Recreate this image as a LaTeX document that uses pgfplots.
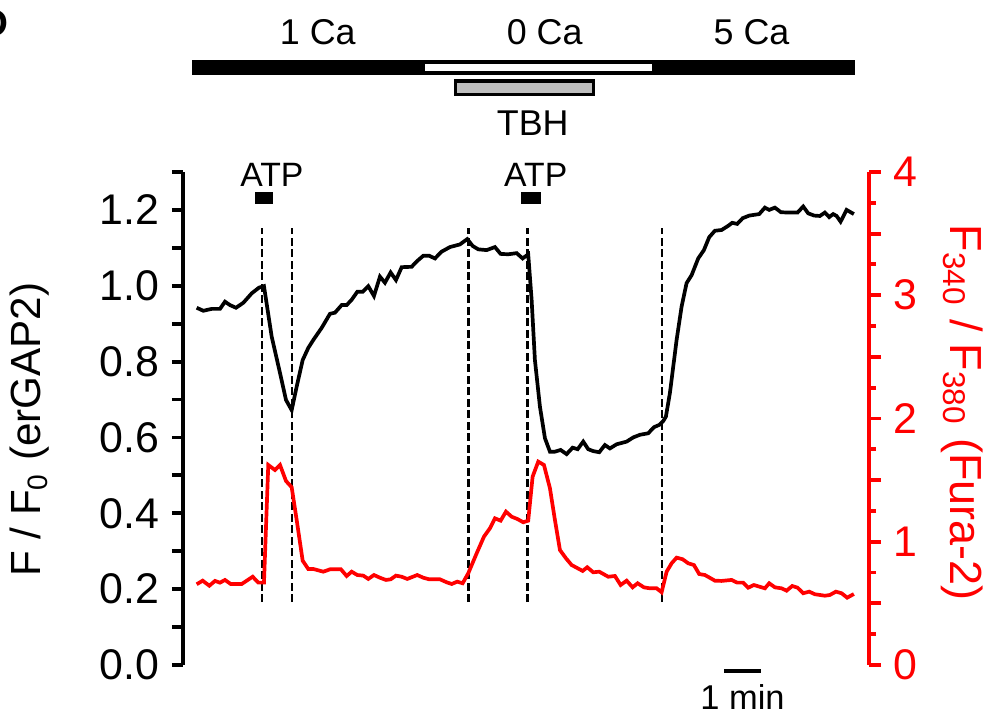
\documentclass[border=0pt]{standalone}
\usepackage{fontspec}
\setmainfont{Liberation Sans}
\usepackage{pgfplots}
\pgfplotsset{compat=1.18}
\definecolor{fred}{RGB}{255,0,0}
\definecolor{tbhgray}{RGB}{190,190,190}
\newcommand{\fs}[1]{\fontsize{#1}{#1}\selectfont}
\begin{document}
\begin{tikzpicture}
\useasboundingbox (0,0) rectangle (9.96cm,7.2cm);
\begin{axis}[
  at={(1.83cm,0.55cm)}, anchor=south west,
  width=6.86cm, height=4.93cm, scale only axis,
  xmin=-0.054, xmax=18.49, ymin=0, ymax=1.3,
  axis x line=none, axis y line*=left,
  clip=false,
  /pgf/number format/assume math mode=true,
  ytick={0,0.2,0.4,0.6,0.8,1.0,1.2},
  minor ytick={0.1,0.3,0.5,0.7,0.9,1.1,1.3},
  yticklabel style={font=\fs{12.2}, /pgf/number format/fixed, /pgf/number format/fixed zerofill, /pgf/number format/precision=1},
  tick align=outside,
  major tick length=0.11cm, minor tick length=0.11cm,
  tick style={black, line width=1.1pt},
  y axis line style={-, line width=1.1pt},
]
\addplot[black, line width=1.05pt] coordinates {
(0.316,0.942) (0.495,0.934) (0.722,0.939) (0.946,0.939) (1.081,0.958) (1.216,0.949)
(1.378,0.942) (1.576,0.955) (1.803,0.980) (2.000,0.995) (2.135,0.999) (2.343,0.866)
(2.568,0.770) (2.730,0.699) (2.884,0.672) (3.019,0.734) (3.181,0.804) (3.332,0.836)
(3.468,0.857) (3.695,0.889) (3.919,0.926) (4.054,0.929) (4.235,0.949) (4.370,0.949)
(4.505,0.963) (4.657,0.984) (4.803,0.984) (4.954,0.999) (5.108,0.973) (5.270,1.024)
(5.405,1.008) (5.559,1.035) (5.703,1.015) (5.857,1.049) (6.127,1.050) (6.262,1.064)
(6.441,1.079) (6.603,1.079) (6.757,1.072) (6.938,1.090) (7.162,1.102) (7.432,1.109)
(7.630,1.123) (7.776,1.105) (7.927,1.096) (8.154,1.094) (8.378,1.102) (8.532,1.084)
(8.738,1.083) (8.965,1.086) (9.127,1.072) (9.278,1.083) (9.370,0.963) (9.459,0.804)
(9.595,0.681) (9.730,0.598) (9.865,0.5625) (10.000,0.5625) (10.154,0.567) (10.316,0.556)
(10.478,0.573) (10.614,0.569) (10.765,0.589) (10.900,0.569) (11.035,0.564) (11.197,0.561)
(11.351,0.580) (11.486,0.571) (11.668,0.582) (11.938,0.589) (12.116,0.600) (12.297,0.607)
(12.522,0.611) (12.676,0.627) (12.819,0.633) (12.927,0.643) (13.000,0.655) (13.108,0.717)
(13.289,0.857) (13.424,0.945) (13.559,1.007) (13.695,1.028) (13.873,1.072) (14.027,1.094)
(14.170,1.128) (14.324,1.145) (14.505,1.147) (14.684,1.158) (14.792,1.166) (14.927,1.163)
(15.073,1.178) (15.251,1.185) (15.522,1.189) (15.676,1.206) (15.792,1.200) (15.946,1.206)
(16.108,1.194) (16.278,1.193) (16.559,1.193) (16.711,1.209) (16.846,1.191) (17.008,1.185)
(17.162,1.184) (17.297,1.193) (17.414,1.181) (17.522,1.189) (17.614,1.184) (17.722,1.169)
(17.884,1.200) (18.081,1.189)
};
% dashed event lines
\addplot[black, line width=0.7pt, dash pattern=on 0.08cm off 0.035cm] coordinates {(2.081,0.166) (2.081,1.152)};
\addplot[black, line width=0.7pt, dash pattern=on 0.08cm off 0.035cm] coordinates {(2.892,0.166) (2.892,1.152)};
\addplot[black, line width=0.7pt, dash pattern=on 0.08cm off 0.035cm] coordinates {(7.668,0.166) (7.668,1.152)};
\addplot[black, line width=0.7pt, dash pattern=on 0.08cm off 0.035cm] coordinates {(9.262,0.166) (9.262,1.152)};
\addplot[black, line width=0.7pt, dash pattern=on 0.08cm off 0.035cm] coordinates {(12.900,0.166) (12.900,1.152)};
% ATP bars
\fill[black] (axis cs:1.892,1.215) rectangle (axis cs:2.370,1.248);
\fill[black] (axis cs:9.073,1.215) rectangle (axis cs:9.614,1.248);
\end{axis}
\begin{axis}[
  at={(1.83cm,0.55cm)}, anchor=south west,
  width=6.86cm, height=4.93cm, scale only axis,
  xmin=-0.054, xmax=18.49, ymin=0, ymax=4,
  axis x line=none, axis y line*=right,
  clip=false,
  /pgf/number format/assume math mode=true,
  ytick={0,0.5,1,1.5,2,2.5,3,3.5,4},
  yticklabels={0,,1,,2,,3,,4},
  minor ytick={0.25,0.75,1.25,1.75,2.25,2.75,3.25,3.75},
  yticklabel style={font=\fs{12.2}, text=fred},
  tick align=outside,
  major tick length=0.12cm, minor tick length=0.07cm,
  tick style={fred, line width=1.1pt},
  y axis line style={-, fred, line width=1.1pt},
]
\addplot[fred, line width=1.05pt] coordinates {
(0.316,0.655) (0.478,0.684) (0.657,0.643) (0.811,0.682) (0.946,0.668) (1.081,0.690)
(1.235,0.657) (1.532,0.657) (1.668,0.684) (1.830,0.716) (1.981,0.668) (2.135,0.668)
(2.251,1.623) (2.432,1.582) (2.568,1.623) (2.730,1.493) (2.884,1.442) (3.019,1.176)
(3.181,0.846) (3.332,0.779) (3.468,0.779) (3.738,0.757) (3.919,0.776) (4.216,0.776)
(4.370,0.722) (4.505,0.757) (4.657,0.730) (4.819,0.725) (4.954,0.698) (5.108,0.730)
(5.270,0.708) (5.432,0.690) (5.559,0.695) (5.703,0.725) (5.857,0.716) (6.008,0.698)
(6.278,0.730) (6.441,0.708) (6.603,0.695) (6.892,0.695) (7.073,0.671) (7.208,0.657)
(7.359,0.676) (7.505,0.663) (7.657,0.744) (7.884,0.906) (8.081,1.041) (8.243,1.109)
(8.378,1.190) (8.532,1.171) (8.676,1.244) (8.830,1.203) (8.981,1.185) (9.143,1.158)
(9.278,1.171) (9.397,1.528) (9.549,1.650) (9.703,1.623) (9.865,1.434) (10.000,1.176)
(10.135,0.933) (10.297,0.866) (10.451,0.811) (10.749,0.763) (10.873,0.793) (11.035,0.752)
(11.197,0.757) (11.441,0.716) (11.622,0.722) (11.776,0.649) (11.938,0.684) (12.100,0.630)
(12.235,0.663) (12.405,0.630) (12.568,0.622) (12.749,0.622) (12.884,0.590) (13.019,0.757)
(13.154,0.825) (13.289,0.871) (13.451,0.858) (13.603,0.825) (13.757,0.811) (13.900,0.738)
(14.054,0.730) (14.324,0.684) (14.505,0.682) (14.776,0.690) (14.927,0.668) (15.089,0.668)
(15.224,0.627) (15.378,0.649) (15.676,0.622) (15.792,0.663) (15.946,0.630) (16.127,0.622)
(16.262,0.603) (16.416,0.641) (16.559,0.627) (16.711,0.582) (16.873,0.595) (17.027,0.574)
(17.297,0.562) (17.432,0.568) (17.595,0.595) (17.749,0.582) (17.900,0.546) (18.081,0.576)
};
\end{axis}
% annotations in pixel coordinates (y downward)
\begin{scope}[shift={(0,7.2cm)}, x=0.01cm, y=-0.01cm]
  \fill[black] (192,60) rectangle (855,75);
  \fill[white] (425,64) rectangle (652,71);
  \filldraw[fill=tbhgray, draw=black, line width=0.9pt] (455.5,81) rectangle (593.5,94.5);
  \node[font=\fs{10.2}] at (318,32) {1 Ca};
  \node[font=\fs{10.2}] at (545,32) {0 Ca};
  \node[font=\fs{10.2}] at (752,32) {5 Ca};
  \node[font=\fs{10.2}] at (533,123) {TBH};
  \node[font=\fs{9.6}] at (272,175) {ATP};
  \node[font=\fs{9.6}] at (536,175) {ATP};
  \fill[black] (724,669) rectangle (761,673);
  \node[font=\fs{9.8}] at (743,697) {1 min};
  \node[font=\fs{12}, rotate=90] at (30,430) {F / F\textsubscript{0} (erGAP2)};
  \node[font=\fs{12.8}, rotate=-90, text=fred] at (963,413) {F\textsubscript{340} / F\textsubscript{380} (Fura-2)};
  \node[font=\bfseries\fs{11}, anchor=east, inner sep=0pt] at (9,23) {D};
\end{scope}
\end{tikzpicture}
\end{document}
